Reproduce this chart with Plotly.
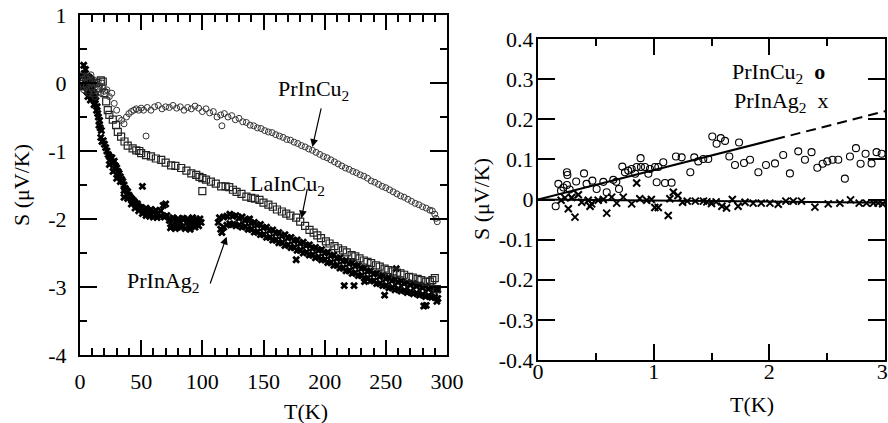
import plotly.graph_objects as go

# ---------------- Left panel data ----------------
cu_T = [2, 3, 4, 5, 6, 7, 8, 9, 10, 11, 12, 13, 14, 15, 16, 17, 18, 19, 20, 22, 24, 26, 28, 30,
        32, 34, 36, 38, 40, 42, 44, 46, 48, 50, 52, 54, 55, 58, 61, 64, 67, 70, 73, 76, 79, 82,
        85, 88, 91, 94, 97, 100, 103, 106, 109, 112, 115, 116, 118, 121, 124, 127, 130, 133,
        136, 139, 142, 145, 148, 151, 154, 157, 160, 163, 166, 169, 172, 175, 178, 181, 184,
        187, 190, 193, 196, 199, 202, 205, 208, 211, 214, 217, 220, 223, 226, 229, 232, 235,
        238, 241, 244, 247, 250, 253, 256, 259, 262, 265, 268, 271, 274, 277, 280, 283, 286,
        288, 290, 291, 292]
cu_S = [0.05, -0.1, 0.08, -0.05, 0.1, -0.15, 0.02, 0.12, -0.08, 0.05, -0.2, 0.0, -0.1, 0.03,
        -0.05, -0.15, 0.0, -0.08, -0.12, -0.1, -0.2, -0.15, -0.3, -0.4,
        -0.52, -0.55, -0.6, -0.5, -0.45, -0.42, -0.4, -0.38, -0.4, -0.37, -0.4, -0.78, -0.36,
        -0.4, -0.35, -0.33, -0.38, -0.35, -0.36, -0.33, -0.37, -0.35, -0.4, -0.36, -0.38,
        -0.34, -0.37, -0.42, -0.38, -0.44, -0.42, -0.5, -0.47, -0.63, -0.45, -0.5, -0.48,
        -0.54, -0.52, -0.57, -0.58, -0.62, -0.63, -0.66, -0.67, -0.7, -0.72, -0.73, -0.76,
        -0.78, -0.8, -0.83, -0.84, -0.87, -0.89, -0.92, -0.94, -0.97, -0.99, -1.02, -1.05,
        -1.08, -1.1, -1.13, -1.16, -1.19, -1.22, -1.25, -1.27, -1.3, -1.32, -1.35, -1.37,
        -1.4, -1.44, -1.46, -1.49, -1.52, -1.54, -1.57, -1.6, -1.63, -1.66, -1.68, -1.71,
        -1.74, -1.77, -1.79, -1.82, -1.84, -1.87, -1.88, -1.93, -1.99, -2.04]

la_T = [1, 3, 5, 7, 9, 11, 13, 15, 17, 18.6, 20, 21.4, 22.7, 24, 26.8, 29.5, 30.9, 33.6,
        36.4, 39, 43, 46, 48.5, 50, 54, 58, 62, 66.4, 70, 74.5, 78, 82.7, 87, 91, 95, 97.7,
        100, 103, 107, 111, 115.4, 119, 122, 125, 128, 132, 136, 140, 143, 146.7, 150, 154,
        157.6, 161, 165, 168.6, 172, 176.7, 180, 184, 187.6, 191, 194, 197, 201, 204, 208,
        211, 215, 218, 222, 225, 228.5, 232, 235, 238, 242, 245, 249, 252, 255.7, 259, 262,
        265, 269, 272, 276, 279, 283, 286, 288, 290, 291.7, 100]
la_S = [0.09, -0.05, 0.05, -0.1, 0.02, -0.15, 0.0, -0.08, 0.04, 0.02, -0.15, -0.27, -0.4,
        -0.47, -0.54, -0.62, -0.72, -0.79, -0.86, -0.92, -0.96, -0.99, -1.0, -1.03, -1.06,
        -1.08, -1.11, -1.13, -1.17, -1.21, -1.22, -1.25, -1.29, -1.33, -1.35, -1.38, -1.4,
        -1.42, -1.45, -1.48, -1.52, -1.52, -1.53, -1.57, -1.6, -1.63, -1.67, -1.69, -1.7,
        -1.72, -1.76, -1.79, -1.82, -1.86, -1.89, -1.92, -1.95, -1.98, -2.04, -2.1, -2.16,
        -2.2, -2.24, -2.28, -2.33, -2.36, -2.4, -2.43, -2.46, -2.49, -2.53, -2.55, -2.58,
        -2.61, -2.63, -2.65, -2.68, -2.7, -2.73, -2.75, -2.77, -2.79, -2.8, -2.82, -2.85,
        -2.86, -2.88, -2.9, -2.92, -2.92, -2.9, -2.87, -3.03, -1.59]

ag_T_low = [2, 2.5, 3, 3.5, 4, 4.5, 5, 5.5, 6, 6.5, 7, 7.5, 8, 8.5, 9, 9.5, 10, 10.5, 11,
            11.5, 12, 12.5, 13, 13.5, 14, 14.5, 15, 15.5, 16, 16.5, 17, 17.5, 18, 19, 20,
            21, 22, 23, 24, 25, 26, 27, 28, 29, 30, 31, 32, 33, 34, 35, 36, 37, 38, 39, 40,
            41, 42, 43, 44, 45, 46, 47, 48, 49, 50, 52, 54, 56, 58, 60, 62, 64, 66, 68, 70,
            71, 36, 51, 24, 27, 30, 33, 36, 39, 42, 45, 48, 51, 54, 57, 60, 63, 66, 69]
ag_S_low = [0.1, -0.05, 0.26, 0.14, -0.05, 0.2, 0.05, -0.12, 0.1, -0.2, -0.02, 0.08, -0.15,
            -0.25, 0.05, -0.1, -0.2, 0.0, -0.15, -0.32, -0.25, -0.3, -0.2, -0.4, -0.35,
            -0.45, -0.5, -0.62, -0.55, -0.66, -0.8, -0.7, -0.86, -0.85, -0.9, -0.95, -1.0,
            -1.05, -1.08, -1.12, -1.1, -1.18, -1.15, -1.22, -1.25, -1.3, -1.33, -1.38, -1.42,
            -1.45, -1.5, -1.55, -1.58, -1.6, -1.65, -1.68, -1.7, -1.72, -1.74, -1.76, -1.8,
            -1.78, -1.82, -1.85, -1.83, -1.86, -1.84, -1.88, -1.86, -1.9, -1.87, -1.92, -1.88,
            -1.8, -1.78, -1.95, -1.68, -1.52, -1.2, -1.3, -1.4, -1.45, -1.58, -1.7, -1.78,
            -1.84, -1.88, -1.92, -1.95, -1.96, -1.97, -1.98, -1.96, -1.97]

ag_T_mid = [73, 75, 77, 79, 81, 83, 85, 87, 89, 91, 93, 95, 97, 99, 74, 76, 78, 80, 82, 84,
            86, 88, 90, 92, 94, 96, 98, 113, 114, 115, 116]
ag_S_mid = [-2.02, -2.1, -2.0, -2.08, -2.03, -2.12, -2.0, -2.06, -2.1, -2.02, -2.07, -2.0,
            -2.1, -2.05, -2.13, -1.98, -2.14, -2.0, -2.11, -1.99, -2.14, -2.0, -2.15, -1.98,
            -2.12, -2.04, -2.0, -2.05, -1.98, -2.15, -2.2]

ag_T_band = [117.5, 120, 122.5, 125, 127.5, 130, 132.5, 135, 137.5, 140, 142.5, 145, 147.5,
             150, 152.5, 155, 157.5, 160, 162.5, 165, 167.5, 170, 172.5, 175, 177.5, 180,
             182.5, 185, 187.5, 190, 192.5, 195, 197.5, 200, 202.5, 205, 207.5, 210, 212.5,
             215, 217.5, 220, 222.5, 225, 227.5, 230, 232.5, 235, 237.5, 240, 242.5, 245,
             247.5, 250, 252.5, 255, 257.5, 260, 262.5, 265, 267.5, 270, 272.5, 275, 277.5,
             280, 282.5, 285, 287.5, 290, 292.5]
ag_S_upper = [-1.97, -1.96, -1.93, -1.96, -1.95, -1.99, -1.97, -2.02, -2.01, -2.06, -2.05,
              -2.09, -2.08, -2.13, -2.12, -2.17, -2.16, -2.21, -2.2, -2.25, -2.23, -2.28,
              -2.27, -2.32, -2.31, -2.36, -2.34, -2.39, -2.38, -2.43, -2.42, -2.46, -2.45,
              -2.5, -2.49, -2.54, -2.53, -2.58, -2.57, -2.62, -2.61, -2.66, -2.64, -2.69,
              -2.68, -2.73, -2.72, -2.77, -2.76, -2.81, -2.8, -2.85, -2.83, -2.88, -2.86,
              -2.91, -2.89, -2.93, -2.91, -2.95, -2.93, -2.97, -2.95, -2.99, -2.97, -3.01,
              -2.99, -3.03, -3.01, -3.05, -3.04]
ag_S_lower = [-2.12, -2.09, -2.07, -2.08, -2.1, -2.09, -2.12, -2.11, -2.15, -2.15, -2.19,
              -2.19, -2.23, -2.23, -2.27, -2.27, -2.31, -2.31, -2.35, -2.35, -2.39, -2.38,
              -2.42, -2.42, -2.46, -2.46, -2.5, -2.49, -2.53, -2.53, -2.57, -2.56, -2.6,
              -2.6, -2.64, -2.64, -2.68, -2.68, -2.72, -2.72, -2.76, -2.76, -2.8, -2.79,
              -2.83, -2.83, -2.87, -2.87, -2.91, -2.91, -2.95, -2.95, -2.98, -2.98, -3.01,
              -3.01, -3.04, -3.03, -3.06, -3.05, -3.08, -3.07, -3.1, -3.09, -3.12, -3.11,
              -3.14, -3.13, -3.15, -3.15, -3.17]
ag_T_out = [176.7, 216, 224, 232.6, 249, 258.5, 281, 283, 291.7, 138.6]
ag_S_out = [-2.6, -2.98, -2.98, -2.92, -3.12, -2.73, -3.28, -3.27, -3.21, -2.0]

# ---------------- Right panel data ----------------
rc_T = [0.153, 0.176, 0.199, 0.22, 0.25, 0.254, 0.25, 0.274, 0.3, 0.33, 0.398, 0.42, 0.47,
        0.507, 0.565, 0.594, 0.651, 0.677, 0.7, 0.729, 0.752, 0.78, 0.81, 0.84, 0.853, 0.887,
        0.89, 0.925, 0.954, 0.968, 1.011, 1.026, 1.04, 1.083, 1.098, 1.155, 1.193, 1.242,
        1.317, 1.351, 1.386, 1.429, 1.472, 1.507, 1.544, 1.58, 1.617, 1.654, 1.703, 1.738,
        1.781, 1.833, 1.905, 1.971, 2.049, 2.12, 2.178, 2.25, 2.308, 2.365, 2.415, 2.461,
        2.501, 2.547, 2.596, 2.653, 2.697, 2.749, 2.789, 2.832, 2.884, 2.927, 2.971]
rc_S = [-0.017, 0.039, 0.022, 0.03, 0.068, 0.061, 0.036, 0.025, 0.012, 0.045, 0.065, 0.039,
        0.047, 0.026, 0.044, 0.018, 0.049, 0.044, 0.026, 0.082, 0.068, 0.072, 0.076, 0.064,
        0.081, 0.103, 0.081, 0.081, 0.064, 0.076, 0.081, 0.043, 0.081, 0.093, 0.041, 0.042,
        0.107, 0.105, 0.068, 0.105, 0.095, 0.101, 0.101, 0.157, 0.139, 0.153, 0.146, 0.107,
        0.086, 0.142, 0.091, 0.099, 0.068, 0.086, 0.09, 0.111, 0.065, 0.12, 0.099, 0.118,
        0.079, 0.089, 0.095, 0.099, 0.099, 0.052, 0.107, 0.128, 0.089, 0.114, 0.09, 0.118,
        0.114]

rx_T = [0.2, 0.233, 0.262, 0.291, 0.32, 0.349, 0.378, 0.435, 0.45, 0.464, 0.52, 0.565,
        0.594, 0.637, 0.68, 0.737, 0.81, 0.853, 0.88, 0.94, 0.98, 1.01, 1.04, 1.126, 1.14,
        1.17, 1.21, 1.25, 1.29, 1.36, 1.43, 1.46, 1.5, 1.54, 1.59, 1.63, 1.68, 1.73, 1.79,
        1.86, 1.93, 2.005, 2.077, 2.143, 2.207, 2.278, 2.394, 2.509, 2.61, 2.702, 2.777,
        2.84, 2.9, 2.94, 2.98]
rx_S = [-0.002, 0.004, -0.023, 0.005, -0.044, 0.012, -0.007, -0.002, -0.017, -0.011,
        -0.002, 0.0, -0.034, 0.006, -0.009, 0.006, -0.011, 0.041, 0.002, -0.002, 0.0,
        -0.02, -0.02, -0.04, 0.002, 0.018, 0.01, -0.007, -0.004, -0.004, -0.004, -0.006,
        -0.01, -0.006, -0.017, -0.021, 0.0, -0.017, -0.007, -0.009, -0.009, -0.009, -0.012,
        -0.004, -0.004, -0.004, -0.019, -0.011, -0.009, -0.001, -0.009, -0.009, -0.009,
        -0.009, -0.011]

fit_T = [0, 2.05]
fit_S = [0, 0.15]
ext_T = [2.05, 3]
ext_S = [0.15, 0.22]
flat_T = [0, 3]
flat_S = [0, -0.008]

# tick labels
lx_vals = [0, 50, 100, 150, 200, 250, 300]
lx_text = ["0", "50", "100", "150", "200", "250", "300"]
ly_vals = [-4, -3, -2, -1, 0, 1]
ly_text = ["-4", "-3", "-2", "-1", "0", "1"]
rx_vals = [0, 1, 2, 3]
rx_text = ["0", "1", "2", "3\u00a0"]
ry_vals = [-0.4, -0.3, -0.2, -0.1, 0, 0.1, 0.2, 0.3, 0.4]
ry_text = ["-0.4", "-0.3", "-0.2", "-0.1", "0", "0.1", "0.2", "0.3", "0.4"]

FONT = "Liberation Serif, Times New Roman, Times, serif"
W, H = 888, 423

fig = go.Figure()

# left panel
fig.add_trace(go.Scatter(x=ag_T_low + ag_T_mid + ag_T_band + ag_T_band + ag_T_out,
                         y=ag_S_low + ag_S_mid + ag_S_upper + ag_S_lower + ag_S_out,
                         mode="markers", xaxis="x", yaxis="y",
                         marker=dict(symbol="x", size=7, color="black", line=dict(width=0))))
fig.add_trace(go.Scatter(x=la_T, y=la_S, mode="markers", xaxis="x", yaxis="y",
                         marker=dict(symbol="square-open", size=7, color="#222",
                                     line=dict(width=1.2, color="#222"))))
fig.add_trace(go.Scatter(x=cu_T, y=cu_S, mode="markers", xaxis="x", yaxis="y",
                         marker=dict(symbol="circle-open", size=6, color="#333",
                                     line=dict(width=1, color="#333"))))

# right panel
fig.add_trace(go.Scatter(x=flat_T, y=flat_S, mode="lines", xaxis="x2", yaxis="y2",
                         line=dict(color="black", width=2)))
fig.add_trace(go.Scatter(x=fit_T, y=fit_S, mode="lines", xaxis="x2", yaxis="y2",
                         line=dict(color="black", width=2)))
fig.add_trace(go.Scatter(x=ext_T, y=ext_S, mode="lines", xaxis="x2", yaxis="y2",
                         line=dict(color="black", width=2, dash="10px,6px")))
fig.add_trace(go.Scatter(x=rc_T, y=rc_S, mode="markers", xaxis="x2", yaxis="y2",
                         marker=dict(symbol="circle-open", size=7, color="black",
                                     line=dict(width=1.1, color="black"))))
fig.add_trace(go.Scatter(x=rx_T, y=rx_S, mode="markers", xaxis="x2", yaxis="y2",
                         marker=dict(symbol="x-thin-open", size=7, color="black",
                                     line=dict(width=2, color="black"))))

axis_common = dict(showline=True, linewidth=2, linecolor="black", mirror="ticks",
                   ticks="inside", tickwidth=1.5, tickcolor="black", showgrid=False,
                   zeroline=False, tickfont=dict(family=FONT, size=22, color="black"),
                   tickmode="array", automargin=False, ticklabeloverflow="allow")

fig.update_layout(
    width=W, height=H, margin=dict(l=0, r=0, t=0, b=0, autoexpand=False),
    paper_bgcolor="white", plot_bgcolor="white", showlegend=False,
    font=dict(family=FONT, size=22, color="black"),
    xaxis=dict(domain=[80 / W, 447 / W], range=[0, 300], tickvals=lx_vals, ticktext=lx_text,
               ticklen=15, ticklabelstandoff=6,
               minor=dict(ticks="inside", ticklen=7, dtick=10, tick0=0, tickwidth=1.5,
                          tickcolor="black", showgrid=False),
               anchor="y", **axis_common),
    yaxis=dict(domain=[(H - 355) / H, (H - 15) / H], range=[-4, 1], tickvals=ly_vals,
               ticktext=ly_text, ticklen=17, ticklabelstandoff=7,
               minor=dict(ticks="inside", ticklen=7, dtick=0.5, tick0=0, tickwidth=1.5,
                          tickcolor="black", showgrid=False),
               anchor="x", **axis_common),
    xaxis2=dict(domain=[538 / W, 885 / W], range=[0, 3], tickvals=rx_vals, ticktext=rx_text,
                ticklen=16, ticklabelstandoff=-9,
                minor=dict(ticks="inside", ticklen=7, dtick=0.5, tick0=0, tickwidth=1.5,
                           tickcolor="black", showgrid=False),
                anchor="y2", **axis_common),
    yaxis2=dict(domain=[(H - 360) / H, (H - 39) / H], range=[-0.4, 0.4], tickvals=ry_vals,
                ticktext=ry_text, ticklen=17, ticklabelstandoff=-2,
                anchor="x2", **axis_common),
)

tfont = dict(family=FONT, size=22, color="black")
ann = []
# axis titles
ann.append(dict(text="T(K)", xref="paper", yref="paper", x=306 / W, y=(H - 411) / H,
                xanchor="center", yanchor="middle", showarrow=False, font=tfont))
ann.append(dict(text="T(K)", xref="paper", yref="paper", x=752 / W, y=(H - 404) / H,
                xanchor="center", yanchor="middle", showarrow=False, font=tfont))
ann.append(dict(text="S (μV/K)", xref="paper", yref="paper", x=22 / W, y=(H - 185) / H,
                xanchor="center", yanchor="middle", showarrow=False, font=tfont, textangle=-90))
ann.append(dict(text="S (μV/K)", xref="paper", yref="paper", x=481 / W, y=(H - 199) / H,
                xanchor="center", yanchor="middle", showarrow=False, font=tfont, textangle=-90))

# left labels
ann.append(dict(text="PrInCu<sub>2</sub>", xref="x", yref="y", x=160.6, y=-0.1,
                xanchor="left", yanchor="middle", showarrow=False, font=tfont))
ann.append(dict(text="LaInCu<sub>2</sub>", xref="x", yref="y", x=137, y=-1.5,
                xanchor="left", yanchor="middle", showarrow=False, font=tfont))
ann.append(dict(text="PrInAg<sub>2</sub>", xref="x", yref="y", x=36.4, y=-2.92,
                xanchor="left", yanchor="middle", showarrow=False, font=tfont))
# arrows
for (tx, ty, sx, sy) in [(190, -0.94, 197.4, -0.35), (181, -1.99, 186, -1.54),
                         (119.8, -2.26, 106, -2.97)]:
    ann.append(dict(text="", xref="x", yref="y", x=tx, y=ty, axref="x", ayref="y",
                    ax=sx, ay=sy, showarrow=True, arrowhead=2, arrowsize=1.3,
                    arrowwidth=1.2, arrowcolor="black"))
# right legend
ann.append(dict(text="PrInCu<sub>2</sub>  <b>o</b>", xref="x2", yref="y2", x=1.66, y=0.315,
                xanchor="left", yanchor="middle", showarrow=False, font=tfont))
ann.append(dict(text="PrInAg<sub>2</sub>  x", xref="x2", yref="y2", x=1.68, y=0.242,
                xanchor="left", yanchor="middle", showarrow=False, font=tfont))
fig.update_layout(annotations=ann)

fig.write_html("out.html")
